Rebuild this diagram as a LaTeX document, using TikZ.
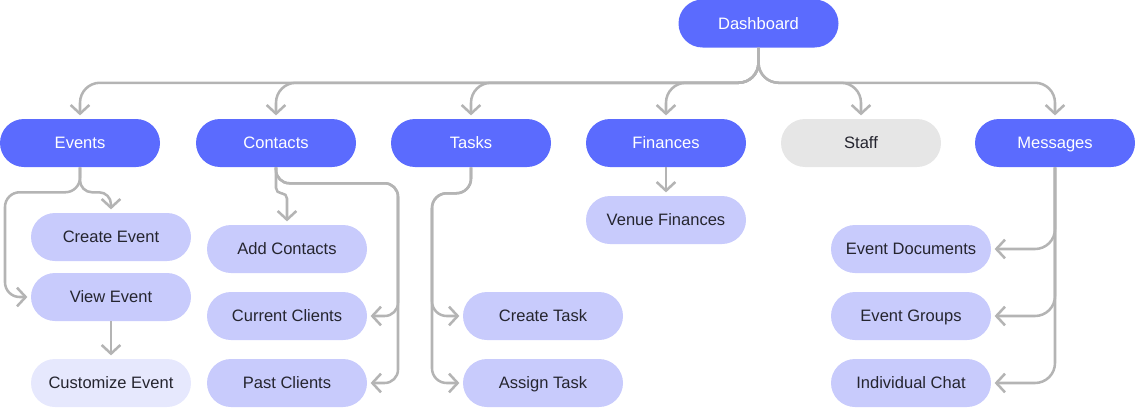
\documentclass[tikz,border=0pt]{standalone}
\usepackage{fontspec}
\setmainfont{Liberation Sans}
\usetikzlibrary{arrows.meta}
\definecolor{mainblue}{HTML}{5B6BFE}
\definecolor{subblue}{HTML}{C8CBFC}
\definecolor{paleblue}{HTML}{E6E8FD}
\definecolor{staffgrey}{HTML}{E6E6E6}
\definecolor{linegrey}{HTML}{B4B4B4}
\definecolor{textdark}{HTML}{25252F}
\tikzstyle{mainblock} = [fill=mainblue, text=white, rounded corners=18pt, minimum width=120pt, minimum height=36pt, inner sep=0, text height=8.9pt, text depth=0pt]
\tikzstyle{subblock} = [mainblock, fill=subblue, text=textdark]
\tikzstyle{paleblock} = [mainblock, fill=paleblue, text=textdark]
\tikzstyle{greyblock} = [mainblock, fill=staffgrey, text=textdark]
\tikzstyle{link} = [draw=linegrey, line width=1.9pt, -{Straight Barb[length=6.5pt, width=14pt]}, shorten >=2.5pt, rounded corners=15pt]

\begin{document}
\begin{tikzpicture}[x=0.75pt, y=-0.75pt, font=\fontsize{12.4}{14}\selectfont]
      \useasboundingbox (0, 0) rectangle (1135, 407);
      \node[mainblock] (dash) at (758.5, 23.5) {Dashboard};

      \node[mainblock] (events) at (80, 143) {Events};
      \node[mainblock] (contacts) at (276, 143) {Contacts};
      \node[mainblock] (tasks) at (471, 143) {Tasks};
      \node[mainblock] (finances) at (666, 143) {Finances};
      \node[greyblock] (staff) at (861, 143) {Staff};
      \node[mainblock] (messages) at (1055, 143) {Messages};

      \node[subblock] (createevent) at (111, 237) {Create Event};
      \node[subblock] (viewevent) at (111, 297) {View Event};
      \node[paleblock] (customevent) at (111, 383) {Customize Event};

      \node[subblock] (addcontacts) at (287, 249) {Add Contacts};
      \node[subblock] (currclients) at (287, 316) {Current Clients};
      \node[subblock] (pastclients) at (287, 383) {Past Clients};

      \node[subblock] (createtask) at (543, 316) {Create Task};
      \node[subblock] (assigntask) at (543, 383) {Assign Task};

      \node[subblock] (venuefin) at (666, 220) {Venue Finances};

      \node[subblock] (eventdocs) at (911, 249) {Event Documents};
      \node[subblock] (eventgroups) at (911, 316) {Event Groups};
      \node[subblock] (indivchat) at (911, 383) {Individual Chat};

      \draw[link] (dash.south) -- ++(0, 35) -| (events.north);
      \draw[link] (dash.south) -- ++(0, 35) -| (contacts.north);
      \draw[link] (dash.south) -- ++(0, 35) -| (tasks.north);
      \draw[link] (dash.south) -- ++(0, 35) -| (finances.north);
      \draw[link] (dash.south) -- ++(0, 35) -| (staff.north);
      \draw[link] (dash.south) -- ++(0, 35) -| (messages.north);

      \draw[link, rounded corners=9pt] (events.south) -- ++(0, 25) -| (createevent.north);
      \draw[link, rounded corners=11pt] (events.south) -- ++(0, 25) -- ++(-75, 0) |- (viewevent.west);
      \draw[link] (viewevent) -- (customevent);

      \draw[link, rounded corners=4pt] (contacts.south) -- ++(0, 26) -- ++(11, 0) -- (addcontacts.north);
      \draw[link, rounded corners=10pt] (contacts.south) -- ++(0, 16) -- ++(122, 0) |- (currclients.east);
      \draw[link, rounded corners=10pt] (contacts.south) -- ++(0, 16) -- ++(122, 0) |- (pastclients.east);

      \draw[link, rounded corners=11pt] (tasks.south) -- ++(0, 26) -- ++(-39, 0) |- (createtask.west);
      \draw[link, rounded corners=11pt] (tasks.south) -- ++(0, 26) -- ++(-39, 0) |- (assigntask.west);

      \draw[link] (finances) -- (venuefin);

      \draw[link] (messages.south) |- (eventdocs.east);
      \draw[link] (messages.south) |- (eventgroups.east);
      \draw[link] (messages.south) |- (indivchat.east);
    \end{tikzpicture}
\end{document}
